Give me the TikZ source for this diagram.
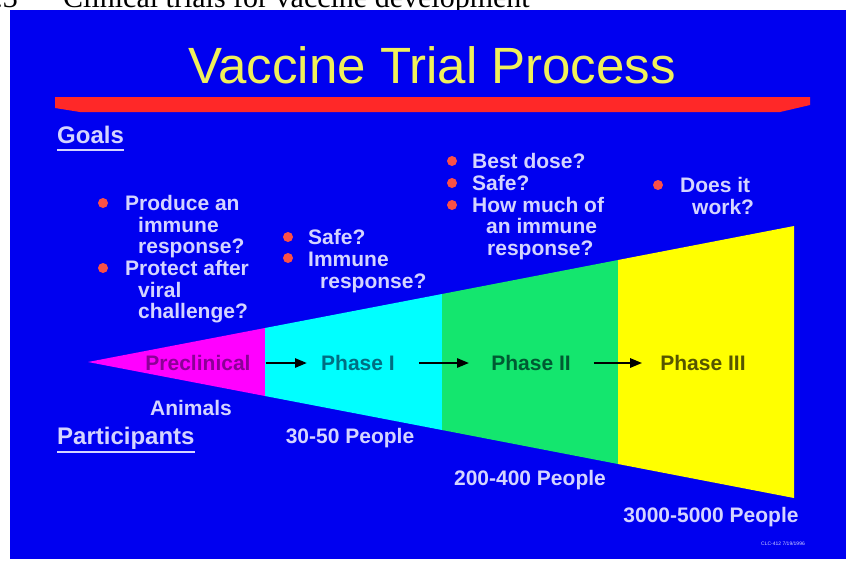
\documentclass[tikz,border=0pt]{standalone}
\usepackage{fontspec}
\setmainfont{Liberation Sans}
\newfontfamily\capfont{Liberation Serif}
\usetikzlibrary{arrows.meta}
\definecolor{slideblue}{RGB}{0,0,240}
\definecolor{lav}{RGB}{212,212,255}
\definecolor{bulred}{RGB}{250,80,70}
\definecolor{barred}{RGB}{255,40,40}
\definecolor{ttlyellow}{RGB}{240,240,90}
\definecolor{precol}{RGB}{255,0,255}
\definecolor{ph1col}{RGB}{0,255,255}
\definecolor{ph2col}{RGB}{20,230,110}
\definecolor{ph3col}{RGB}{255,255,0}
\definecolor{pretxt}{RGB}{140,0,150}
\definecolor{ph1txt}{RGB}{0,110,130}
\definecolor{ph2txt}{RGB}{0,90,50}
\definecolor{ph3txt}{RGB}{85,85,0}
\begin{document}
\begin{tikzpicture}[x=1pt,y=-1pt,
  txt/.style={text=lav, font=\bfseries\fontsize{21}{21}\selectfont, inner sep=0pt, anchor=base west},
  head/.style={text=lav, font=\bfseries\fontsize{24}{24}\selectfont, inner sep=0pt, anchor=base west},
  part/.style={text=lav, font=\bfseries\fontsize{21}{21}\selectfont, inner sep=0pt},
  bul/.style={circle, fill=bulred, minimum size=10pt, inner sep=0pt},
  phase/.style={font=\bfseries\fontsize{21}{21}\selectfont, inner sep=0pt},
  arr/.style={line width=2.5pt, -{Triangle[length=12pt,width=9pt]}, black},
  uline/.style={lav, line width=2pt}]
\useasboundingbox (0,0) rectangle (846,566);
% caption (cut off at top, as in the reference)
\node[anchor=base east, inner sep=0pt, font=\capfont\fontsize{30}{30}\selectfont] (capnum) at (18,7) {1.3};
\node[anchor=base west, inner sep=0pt, font=\capfont\fontsize{30}{30}\selectfont] (cap) at (63,7) {Clinical trials for vaccine development};
% slide background
\fill[slideblue] (10,10) rectangle (846,559);
% title and bar
\node[anchor=base, inner sep=0pt, text=ttlyellow, font=\fontsize{51}{51}\selectfont] (title) at (432,83) {Vaccine Trial Process};
\fill[barred] (55,97) -- (810,97) -- (810,105) -- (780,112) -- (80,112) -- (55,108) -- cycle;
% funnel
\fill[precol] (88,362) -- (265,328) -- (265,396) -- cycle;
\fill[ph1col] (265,328) -- (442,294) -- (442,430) -- (265,396) -- cycle;
\fill[ph2col] (442,294) -- (618,260) -- (618,464) -- (442,430) -- cycle;
\fill[ph3col] (618,260) -- (794,226) -- (794,498) -- (618,464) -- cycle;
% phase labels
\node[phase, text=pretxt] (pre) at (198,363) {Preclinical};
\node[phase, text=ph1txt] (ph1) at (358,363) {Phase I};
\node[phase, text=ph2txt] (ph2) at (531,363) {Phase II};
\node[phase, text=ph3txt] (ph3) at (703,363) {Phase III};
\draw[arr] ([xshift=15pt]pre.east) -- ([xshift=-14pt]ph1.west);
\draw[arr] ([xshift=24pt]ph1.east) -- ([xshift=-22pt]ph2.west);
\draw[arr] ([xshift=23pt]ph2.east) -- ([xshift=-18pt]ph3.west);
% headings
\node[head] (goals) at (57,143) {Goals};
\draw[uline] ([yshift=-7pt]goals.base west) -- ([yshift=-7pt]goals.base east);
\node[head] (parts) at (57,444) {Participants};
\draw[uline] ([yshift=-8pt]parts.base west) -- ([yshift=-8pt]parts.base east);
% preclinical goals
\node[bul] (b1) at (103,203) {};
\node[txt] (g1a) at (125,210) {Produce an};
\node[txt] (g1b) at (138,232) {immune};
\node[txt] (g1c) at (138,253) {response?};
\node[bul] (b2) at (103,268) {};
\node[txt] (g2a) at (125,275) {Protect after};
\node[txt] (g2b) at (138,297) {viral};
\node[txt] (g2c) at (138,318) {challenge?};
% phase I goals
\node[bul] (b3) at (288,237) {};
\node[txt] (g3a) at (308,244) {Safe?};
\node[bul] (b4) at (288,258) {};
\node[txt] (g4a) at (308,266) {Immune};
\node[txt] (g4b) at (320,288) {response?};
% phase II goals
\node[bul] (b5) at (452,161) {};
\node[txt] (g5a) at (472,168) {Best dose?};
\node[bul] (b6) at (452,183) {};
\node[txt] (g6a) at (472,190) {Safe?};
\node[bul] (b7) at (452,205) {};
\node[txt] (g7a) at (472,212) {How much of};
\node[txt] (g7b) at (486,233) {an immune};
\node[txt] (g7c) at (487,255) {response?};
% phase III goals
\node[bul] (b8) at (658,185) {};
\node[txt] (g8a) at (680,192) {Does it};
\node[txt] (g8b) at (692,214) {work?};
% participants
\node[part] (pa) at (191,408) {Animals};
\node[part] (pb) at (350,438) {30-50 People};
\node[part] (pc) at (530,480) {200-400 People};
\node[part] (pd) at (711,517) {3000-5000 People};
\node[text=lav, font=\fontsize{5}{5}\selectfont, inner sep=0pt] (code) at (783,544) {CLC-412 7/19/1996};
\end{tikzpicture}
\end{document}
